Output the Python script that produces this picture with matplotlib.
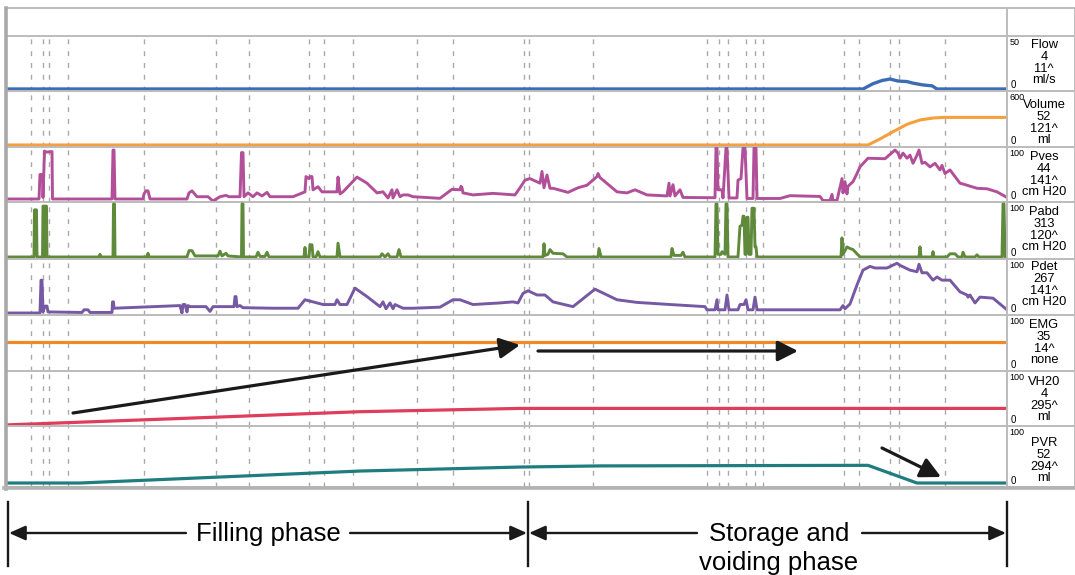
import matplotlib.pyplot as plt

plt.rcParams["font.family"] = ["Liberation Sans", "DejaVu Sans"]

# time in seconds, study runs 0..1000
flow_t = [0, 856, 866, 875, 883, 891, 900, 906, 916, 925, 930, 1000]
flow_v = [0, 0, 5, 8, 9.4, 7.5, 7, 5.5, 3.8, 3, 0, 0]

volume_t = [0, 861, 873, 886, 900, 913, 926, 936, 1000]
volume_v = [0, 0, 68, 150, 234, 283, 305, 312, 312]

# (time, cm H2O)
pves = [(0, 0), (32, 0), (33, 48), (35.5, 48), (36, 3), (37.5, 94), (39, 92), (45, 93), (45.5, 0),
        (105, 0), (106, 96), (107, 96), (108, 0),
        (136, 0), (137, 10), (139, 16), (141, 16), (143, 0),
        (180, 0), (182, 12), (185, 16), (190, 4.5), (201, 4.5), (206, -4), (213, 4.5), (219, 7), (222, 4.5),
        (233, 4.5), (234.5, 91), (236, 91), (237, 4.5), (241, 12), (246, 4.5), (250, 12), (255, 6),
        (260, 13), (263, 4.5), (286, 4.5), (298, 14), (299, 44), (302, 40), (303, 44), (305, 44),
        (306, 18), (311, 24), (315, 14), (330, 14), (331, 43), (333, 10), (336, 14), (350, 43),
        (360, 31), (370, 12), (376, 14), (381, 2), (385, 18), (386, 2), (390, 18), (393, 4.5),
        (396, 8), (401, 8), (406, 4.5), (433, 1.3), (445, 19), (453, 18), (454, 25), (455, 22),
        (456, 12), (466, 8), (486, 11), (508, 8), (513, 22), (518, 37), (523, 40), (533, 31),
        (535, 54), (537, 22), (540, 47), (543, 21), (546, 21), (561, 13), (571, 22), (580, 27),
        (590, 44), (591, 50), (593, 42), (610, 14), (620, 12), (628, 18), (640, 8), (660, 6),
        (662, 31), (663, 6), (666, 28), (668, 6), (673, 18), (676, 3), (700, 2.5), (708, 2.5),
        (709, 100), (710, 100), (711, 18), (715, 18), (716, 2), (719, 100), (720, 100), (722, 2),
        (730, 2), (731, 37), (734, 40), (736, 100), (738, 100), (740, 1), (746, 1), (747, 100),
        (749, 100), (750, 1), (773, 1), (783, 6.5), (813, 5), (816, -3), (823, -3), (825, 9),
        (826, -3), (830, -3), (835, 40), (836, 12), (838, 34), (840, 10), (841, 25), (846, 34),
        (850, 50), (853, 63), (861, 80), (878, 79), (888, 96), (891, 90), (893, 80), (896, 90),
        (900, 80), (903, 86), (906, 70), (910, 86), (912, 96), (915, 70), (918, 72), (923, 63),
        (928, 70), (933, 57), (935, 66), (938, 50), (943, 57), (953, 31), (960, 27), (970, 21),
        (980, 20), (990, 14), (1000, 3)]

pabd = [(0, 0), (27, 0), (27.5, 89), (29.5, 89), (30, 0), (35.5, 0), (36, 96), (37, 96), (37.5, 0),
        (38, 96), (39.5, 96), (40, 0), (92, 0), (93, 5), (94, 0),
        (106, 0), (106.5, 100), (107.5, 100), (108, 0), (140, 0), (141, 7), (142, 0),
        (180, 0), (182, 12), (185, 12), (188, 2), (211, 2), (213, 11), (215, 2), (219, 7), (221, 2),
        (234.5, 0), (235, 100), (236, 100), (236.5, 0), (249, 0), (251, 9), (253, 1), (258, 1),
        (260, 9), (262, 0), (297, 0), (298, 18), (299, 0), (302, 0), (303, 23), (305, 23), (306, 0),
        (309, 0), (311, 10), (313, 0), (330, 0), (331, 26), (333, 0), (373, 0), (375, 6), (378, 0),
        (381, 6), (383, 0), (390, 0), (392, 14), (394, 0), (536, 0), (537, 25), (538, 3), (541, 5),
        (543, 14), (546, 7), (556, 6), (560, 0), (591, 0), (592, 16), (594, 0), (664, 0), (665, 16),
        (667, 3), (674, 3), (676, 9), (678, 0), (708, 0), (709, 100), (710, 100), (711, 5),
        (714, 5), (715, 10), (718, 5), (719, 100), (720, 100), (721, 0), (731, 0), (733, 58),
        (735, 60), (736, 77), (737, 77), (738, 5), (739, 5), (740, 75), (741, 75), (742, 5),
        (744, 5), (745, 92), (747, 92), (748, 19), (749, 19), (750, 0), (834, 0), (835, 36),
        (836, 5), (838, 12), (840, 19), (843, 16), (846, 14), (853, 0), (912, 0), (913, 19),
        (914, 0), (925, 0), (926, 10), (927, 0), (940, 0), (943, 6), (948, 6), (951, 0), (955, 0),
        (956, 9), (958, 0), (968, 0), (970, 4), (972, 0), (995, 0), (996, 100), (997, 100),
        (998, 0), (1000, 0)]

pdet = [(0, 0), (33, 0), (34, 62), (35, 62), (36, 2), (38, 13), (40, 13), (41, 2), (75, 1), (77, 6),
        (81, 6), (83, 1), (105, 1), (105.5, 21), (106.5, 21), (107, 9), (173, 14), (175, 0),
        (176, 16), (178, 16), (180, 2), (181, 14), (183, 12), (199, 12), (203, 3), (206, 12),
        (227, 12), (228, 31), (229, 31), (230, 12), (233, 14), (236, 10), (266, 9), (291, 9),
        (298, 25), (316, 16), (328, 16), (330, 25), (333, 16), (340, 16), (348, 47), (360, 31),
        (373, 12), (376, 21), (379, 8), (383, 19), (386, 8), (388, 16), (396, 9), (406, 9),
        (433, 11), (446, 25), (453, 25), (466, 16), (493, 19), (506, 21), (511, 19), (516, 37),
        (521, 42), (530, 34), (538, 34), (546, 21), (566, 12), (588, 45), (610, 25), (630, 20),
        (663, 16), (698, 12), (700, 6), (708, 6), (710, 25), (711, 6), (718, 6), (720, 34),
        (722, 6), (731, 6), (733, 16), (737, 16), (739, 25), (741, 6), (746, 6), (748, 30),
        (750, 6), (833, 6), (836, 14), (838, 8), (843, 17), (850, 53), (856, 81), (863, 88),
        (868, 85), (880, 85), (890, 94), (893, 90), (903, 81), (910, 78), (912, 92), (915, 76),
        (920, 76), (926, 62), (930, 68), (935, 62), (943, 62), (953, 40), (960, 34), (961, 30),
        (963, 34), (968, 19), (973, 30), (986, 28), (1000, 6)]

emg_t = [0, 1000]
emg_v = [50, 50]

vh2o_t = [0, 193, 353, 513, 1000]
vh2o_v = [2, 15, 26, 32, 32]

pvr_t = [0, 73, 193, 353, 513, 593, 861, 910, 1000]
pvr_v = [0, 0, 9, 21, 28, 30, 31, 0, 0]

event_t = [24, 36, 42, 61, 137, 209, 242, 302, 317, 346, 410, 446, 517, 522,
           586, 700, 712, 721, 739, 748, 756, 837, 852, 883, 892, 938]

# label column text
channel_names = ["Flow", "Volume", "Pves", "Pabd", "Pdet", "EMG", "VH20", "PVR"]
scale_tops = ["50", "600", "100", "100", "100", "100", "100", "100"]
current_vals = ["4", "52", "44", "313", "267", "35", "4", "52"]
max_vals = ["11^", "121^", "141^", "120^", "141^", "14^", "295^", "294^"]
units = ["ml/s", "ml", "cm H20", "cm H20", "cm H20", "none", "ml", "ml"]

pves_t, pves_v = zip(*pves)
pabd_t, pabd_v = zip(*pabd)
pdet_t, pdet_v = zip(*pdet)

W, H = 1075, 575
X0, X1, XL = 7, 1007, 1075
ROWS = [36, 91, 147, 202, 259, 315, 371, 426, 487]
GRID = "#bcbcbc"
DASH = "#a9a9a9"

fig = plt.figure(figsize=(W / 100, H / 100), dpi=100)


def px_rect(x0, y0, x1, y1):
    return [x0 / W, 1 - y1 / H, (x1 - x0) / W, (y1 - y0) / H]


series = [
    (flow_t, flow_v, "#3c6db4", 2.4, (-1.9, 50)),
    (volume_t, volume_v, "#f5a03c", 2.2, (-23, 611)),
    (pves_t, pves_v, "#b24f99", 2.1, (-5.9, 102)),
    (pabd_t, pabd_v, "#5f8a3b", 2.1, (-3.8, 103.8)),
    (pdet_t, pdet_v, "#7759a3", 2.1, (-3.8, 102)),
    (emg_t, emg_v, "#f08a26", 2.3, (-5, 103)),
    (vh2o_t, vh2o_v, "#e03c5c", 2.3, (0, 100)),
    (pvr_t, pvr_v, "#1f7d80", 2.3, (-7, 100)),
]
first_line = [9, 14, 10, 10, 8, 10, 11, 17]

for i, (t, v, color, lw, ylim) in enumerate(series):
    top, bot = ROWS[i], ROWS[i + 1]
    ax = fig.add_axes(px_rect(X0, top, X1, bot))
    for e in event_t:
        ax.axvline(e, color=DASH, lw=1.0, ls=(0, (3.5, 5.0)), zorder=1)
    ax.plot(t, v, color=color, lw=lw, solid_joinstyle="round", zorder=3)
    ax.set_xlim(0, 1000)
    ax.set_ylim(*ylim)
    ax.set_xticks([])
    ax.set_yticks([])
    for sp in ax.spines.values():
        sp.set_color(GRID)
        sp.set_linewidth(1.4)
    ax.spines["left"].set_visible(False)

    lab = fig.add_axes(px_rect(X1, top, XL, bot))
    lab.set_xlim(0, XL - X1)
    lab.set_ylim(bot - top, 0)
    lab.set_xticks([])
    lab.set_yticks([])
    for sp in lab.spines.values():
        sp.set_color(GRID)
        sp.set_linewidth(1.4)
    lab.text(2.5, 6.5, scale_tops[i], fontsize=6.5, va="center", ha="left")
    lab.text(4, bot - top - 6, "0", fontsize=7, va="center", ha="left")
    lines = [channel_names[i], current_vals[i], max_vals[i], units[i]]
    for k, s in enumerate(lines):
        lab.text(37, first_line[i] + k * 11.8, s, fontsize=9.3,
                 ha="center", va="center")

# header row
hdr = fig.add_axes(px_rect(X0, 8, XL, ROWS[0]))
hdr.set_xlim(X0, XL)
hdr.set_ylim(0, 1)
hdr.axvline(X1, color=GRID, lw=1.4)
hdr.set_xticks([])
hdr.set_yticks([])
for sp in hdr.spines.values():
    sp.set_color(GRID)
    sp.set_linewidth(1.4)
hdr.spines["left"].set_visible(False)

# overlay for borders, annotation arrows and phase markers
ov = fig.add_axes([0, 0, 1, 1], zorder=10)
ov.set_xlim(0, W)
ov.set_ylim(H, 0)
ov.axis("off")
ov.plot([5.5, 5.5], [8, 489], color="#a9a9a9", lw=2.6)
ov.plot([4, XL], [488, 488], color="#b3b3b3", lw=2.6)

arrow = dict(arrowstyle="-|>,head_length=0.95,head_width=0.48", color="#1a1a1a",
             lw=2.3, mutation_scale=13, shrinkA=0, shrinkB=0)
ov.annotate("", xy=(520, 345), xytext=(73, 413), arrowprops=arrow)
ov.annotate("", xy=(798, 351), xytext=(538, 351), arrowprops=arrow)
ov.annotate("", xy=(941, 477), xytext=(882, 448), arrowprops=arrow)

# phase markers
for xb in (8, 528, 1007):
    ov.plot([xb, xb], [502, 566], color="#1a1a1a", lw=1.7)
small = dict(arrowstyle="-|>,head_length=0.9,head_width=0.4", color="#1a1a1a",
             lw=1.7, mutation_scale=11, shrinkA=0, shrinkB=0)
y_ph = 533
for start, end in [(186, 9), (350, 527), (697, 529), (862, 1006)]:
    ov.annotate("", xy=(end, y_ph), xytext=(start, y_ph), arrowprops=small)
ov.text(268, y_ph + 1, "Filling phase", fontsize=18.5, ha="center", va="center")
ov.text(779, y_ph + 1, "Storage and", fontsize=18.5, ha="center", va="center")
ov.text(779, y_ph + 30, "voiding phase", fontsize=18.5, ha="center", va="center")

fig.savefig("out.png", dpi=100)
